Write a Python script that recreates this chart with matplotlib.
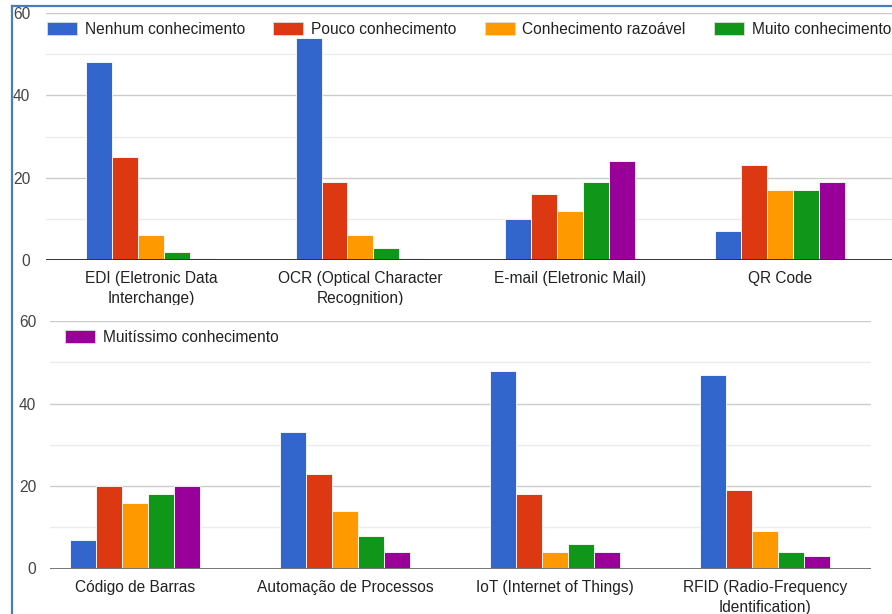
import numpy as np
import matplotlib
matplotlib.use("Agg")
import matplotlib.pyplot as plt
from matplotlib.patches import Rectangle, Patch
from matplotlib.lines import Line2D

plt.rcParams['font.family'] = ['Liberation Sans', 'DejaVu Sans']

# níveis de conhecimento (séries) e cores
niveis = ['Nenhum conhecimento', 'Pouco conhecimento', 'Conhecimento razoável',
          'Muito conhecimento', 'Muitíssimo conhecimento']
cores = ['#3366cc', '#dc3912', '#ff9900', '#109618', '#990099']

# tecnologias - painel de cima
tec_cima = ['EDI (Eletronic Data\nInterchange)', 'OCR (Optical Character\nRecognition)',
            'E-mail (Eletronic Mail)', 'QR Code']
# tecnologias - painel de baixo
tec_baixo = ['Código de Barras', 'Automação de Processos',
             'IoT (Internet of Things)', 'RFID (Radio-Frequency\nIdentification)']

# respostas por nível (uma lista por nível, na ordem das tecnologias)
nenhum_cima = [48, 54, 10, 7]
pouco_cima = [25, 19, 16, 23]
razoavel_cima = [6, 6, 12, 17]
muito_cima = [2, 3, 19, 17]
muitissimo_cima = [0, 0, 24, 19]

nenhum_baixo = [7, 33, 48, 47]
pouco_baixo = [20, 23, 18, 19]
razoavel_baixo = [16, 14, 4, 9]
muito_baixo = [18, 8, 6, 4]
muitissimo_baixo = [20, 4, 4, 3]

serie_cima = [nenhum_cima, pouco_cima, razoavel_cima, muito_cima, muitissimo_cima]
serie_baixo = [nenhum_baixo, pouco_baixo, razoavel_baixo, muito_baixo, muitissimo_baixo]

W, H = 892, 614
FS = 11.2


def fx(px):
    return px / W


def fy(py):
    return 1 - py / H


fig = plt.figure(figsize=(W / 100, H / 100), dpi=100)
fig.patch.set_facecolor('white')

ax1 = fig.add_axes([fx(46), fy(260), fx(892 - 46), fy(13) - fy(260)], zorder=0)
ax2 = fig.add_axes([fx(50), fy(568.5), fx(871 - 50), fy(321) - fy(568.5)], zorder=2)

larg = 0.124


def desenha(ax, categorias, series, xlim, cor_base, pad_y):
    x = np.arange(len(categorias))
    for i, (vals, cor) in enumerate(zip(series, cores)):
        off = (i - 2) * larg
        ax.bar(x + off, vals, width=larg, color=cor, edgecolor='white',
               linewidth=0.6, zorder=3)
        # barras com valor zero aparecem como um traço fino
        for xi, v in zip(x + off, vals):
            if v == 0:
                ax.plot([xi - larg / 2, xi + larg / 2], [0.25, 0.25],
                        color='#e8d8e8', linewidth=1, zorder=3)
    ax.set_xlim(*xlim)
    ax.set_ylim(0, 60)
    ax.set_yticks([0, 20, 40, 60])
    ax.set_yticks([10, 30, 50], minor=True)
    ax.grid(axis='y', which='major', color='#cccccc', linewidth=1, zorder=0)
    ax.grid(axis='y', which='minor', color='#ebebeb', linewidth=1, zorder=0)
    ax.axhline(0, color=cor_base, linewidth=1.4, zorder=4)
    ax.set_xticks(x)
    ax.set_xticklabels(categorias, fontsize=FS, color='#222222', linespacing=1.41)
    ax.tick_params(axis='x', length=0, pad=8)
    ax.tick_params(axis='y', which='both', length=0, pad=pad_y,
                   labelsize=FS, labelcolor='#444444')
    for s in ax.spines.values():
        s.set_visible(False)
    ax.set_facecolor('none')


desenha(ax1, tec_cima, serie_cima, (-0.5, 3.535), '#333333', 11.5)
desenha(ax2, tec_baixo, serie_baixo, (-0.407, 3.505), '#777777', 10)

# legendas
alcas = [Patch(facecolor=c, edgecolor='#dddddd', linewidth=0.6) for c in cores]
leg_kw = dict(frameon=False, fontsize=FS, handlelength=1.93, handleheight=0.95,
              handletextpad=0.51, columnspacing=1.8, borderpad=0, borderaxespad=0,
              labelcolor='#222222')
ax1.legend(alcas[:4], niveis[:4], ncol=4, loc='upper left',
           bbox_to_anchor=(fx(47), fy(22)), bbox_transform=fig.transFigure, **leg_kw)
ax2.legend(alcas[4:], niveis[4:], ncol=1, loc='upper left',
           bbox_to_anchor=(fx(65), fy(330)), bbox_transform=fig.transFigure, **leg_kw)

# fundo branco do painel de baixo
fig.add_artist(Rectangle((fx(14), 0), 1, fy(305), transform=fig.transFigure,
                         facecolor='white', edgecolor='none', zorder=1))

# moldura azul
moldura = '#4a7ebb'
fig.add_artist(Line2D([fx(12), fx(12)], [0, fy(6)], color=moldura, linewidth=1.6,
                      transform=fig.transFigure, zorder=5))
fig.add_artist(Line2D([fx(12), 1], [fy(6), fy(6)], color=moldura, linewidth=1.6,
                      transform=fig.transFigure, zorder=5))

fig.savefig('out.png', dpi=100)
